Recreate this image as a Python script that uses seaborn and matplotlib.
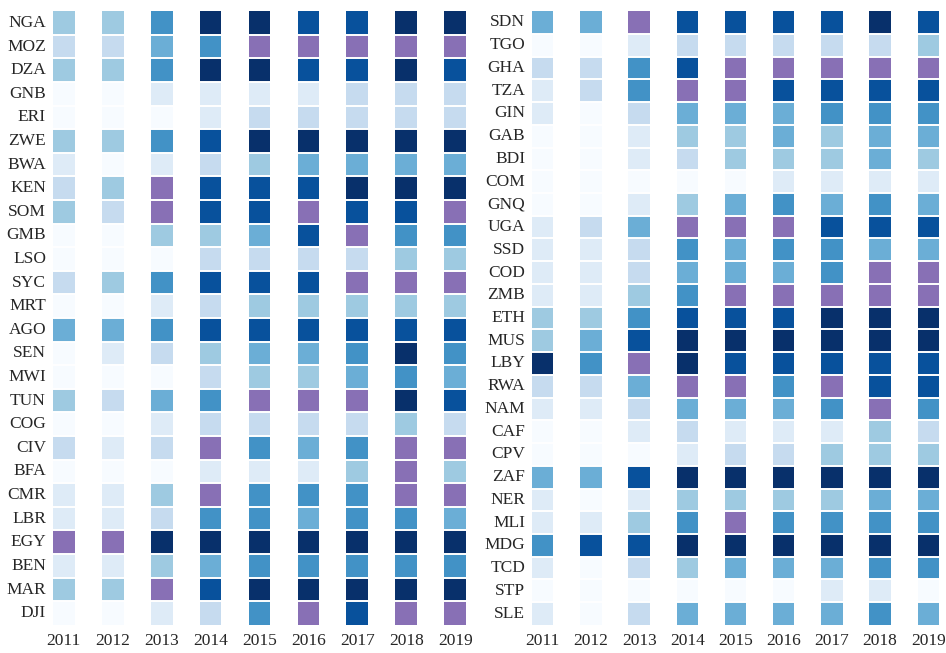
import matplotlib
matplotlib.use("Agg")
import matplotlib.pyplot as plt
from matplotlib.colors import ListedColormap
import seaborn as sns
import pandas as pd
import numpy as np

# Data: discrete level codes 0-7 (Blues), P = special category (purple)
P = 8
years = ["2011", "2012", "2013", "2014", "2015", "2016", "2017", "2018", "2019"]

left_countries = ["NGA", "MOZ", "DZA", "GNB", "ERI", "ZWE", "BWA", "KEN", "SOM", "GMB",
                  "LSO", "SYC", "MRT", "AGO", "SEN", "MWI", "TUN", "COG", "CIV", "BFA",
                  "CMR", "LBR", "EGY", "BEN", "MAR", "DJI"]
left_levels = [
    [3, 3, 5, 7, 7, 6, 6, 7, 7],
    [2, 2, 4, 5, P, P, P, P, P],
    [3, 3, 5, 7, 7, 6, 6, 7, 6],
    [0, 0, 1, 1, 1, 1, 2, 2, 2],
    [0, 0, 0, 1, 2, 2, 2, 2, 2],
    [3, 3, 5, 6, 7, 7, 7, 7, 7],
    [1, 0, 1, 2, 3, 4, 4, 4, 4],
    [2, 3, P, 6, 6, 6, 7, 7, 7],
    [3, 2, P, 6, 6, P, 6, 6, P],
    [0, 0, 3, 3, 4, 6, P, 5, 5],
    [0, 0, 0, 2, 2, 2, 2, 3, 3],
    [2, 3, 5, 6, 6, 6, P, P, P],
    [0, 0, 1, 2, 3, 3, 3, 3, 3],
    [4, 4, 5, 6, 6, 6, 6, 6, 6],
    [0, 1, 2, 3, 4, 4, 5, 7, 5],
    [0, 0, 0, 2, 3, 3, 4, 5, 4],
    [3, 2, 4, 5, P, P, P, 7, 6],
    [0, 0, 1, 2, 2, 2, 2, 3, 2],
    [2, 1, 2, P, 5, 4, 5, P, P],
    [0, 0, 0, 1, 1, 1, 3, P, 3],
    [1, 1, 3, P, 5, 5, 5, P, P],
    [1, 1, 2, 5, 5, 4, 5, 5, 4],
    [P, P, 7, 7, 7, 7, 7, 7, 7],
    [1, 1, 3, 4, 5, 5, 5, 5, 5],
    [3, 3, P, 6, 7, 7, 7, 7, 7],
    [0, 0, 1, 2, 5, P, 6, P, P],
]

right_countries = ["SDN", "TGO", "GHA", "TZA", "GIN", "GAB", "BDI", "COM", "GNQ", "UGA",
                   "SSD", "COD", "ZMB", "ETH", "MUS", "LBY", "RWA", "NAM", "CAF", "CPV",
                   "ZAF", "NER", "MLI", "MDG", "TCD", "STP", "SLE"]
right_levels = [
    [4, 4, P, 6, 6, 6, 6, 7, 6],
    [0, 0, 1, 2, 2, 2, 2, 2, 3],
    [2, 2, 5, 6, P, P, P, P, P],
    [1, 2, 5, P, P, 6, 6, 6, 6],
    [1, 0, 2, 4, 4, 4, 5, 5, 5],
    [0, 0, 1, 3, 3, 4, 3, 4, 4],
    [0, 0, 1, 2, 3, 3, 3, 4, 3],
    [0, 0, 0, 0, 0, 1, 1, 1, 1],
    [0, 0, 1, 3, 4, 5, 4, 5, 4],
    [1, 2, 4, P, P, P, 6, 6, 6],
    [1, 1, 2, 5, 4, 5, 5, 4, 4],
    [1, 1, 2, 4, 4, 4, 5, P, P],
    [1, 1, 3, 5, P, P, P, P, P],
    [3, 3, 5, 6, 6, 6, 7, 7, 7],
    [3, 4, 6, 7, 7, 7, 7, 7, 7],
    [7, 5, P, 7, 6, 6, 6, 6, 6],
    [2, 2, 4, P, P, 5, P, 6, 6],
    [1, 1, 2, 4, 4, 4, 5, P, 5],
    [0, 0, 1, 2, 1, 1, 1, 3, 2],
    [0, 0, 0, 1, 2, 2, 3, 3, 3],
    [4, 4, 6, 7, 7, 7, 7, 7, 7],
    [1, 0, 1, 3, 3, 3, 3, 4, 4],
    [1, 1, 3, 5, P, 5, 5, 5, 5],
    [5, 6, 6, 7, 7, 7, 7, 7, 7],
    [1, 0, 2, 3, 4, 4, 4, 5, 5],
    [0, 0, 0, 0, 0, 0, 1, 1, 0],
    [1, 0, 2, 4, 4, 4, 4, 5, 4],
]

palette = ["#f7fbff", "#deebf7", "#c6dbef", "#9ecae1", "#6baed6",
           "#4292c6", "#08519c", "#08306b", "#8870b5"]
cmap = ListedColormap(palette)

# Each year is split into 9 sub-columns, the first 4 filled, to leave white gaps
SUB = 9
FILL = 4


def spread_columns(levels):
    arr = np.array(levels, dtype=float)
    n_rows, n_cols = arr.shape
    wide = np.full((n_rows, SUB * (n_cols - 1) + FILL), np.nan)
    for j in range(n_cols):
        wide[:, SUB * j:SUB * j + FILL] = arr[:, [j]]
    return wide


def draw_panel(ax, countries, levels):
    wide = spread_columns(levels)
    df = pd.DataFrame(wide, index=countries)
    sns.heatmap(df, ax=ax, cmap=cmap, vmin=-0.5, vmax=8.5, cbar=False,
                xticklabels=False, yticklabels=True, linewidths=0)
    # thin white separators between rows
    for r in range(1, len(countries)):
        ax.axhline(r, color="white", lw=1.4)
    ax.set_xticks([SUB * j + FILL / 2 for j in range(len(years))])
    ax.set_xticklabels(years, rotation=0)
    ax.set_yticklabels(countries, rotation=0)
    ax.tick_params(length=0, labelsize=12.5, pad=5)
    ax.tick_params(axis="x", pad=6)
    ax.set_xlabel("")
    ax.set_ylabel("")


sns.set_theme(style="white")
plt.rcParams["font.family"] = ["Liberation Serif", "DejaVu Serif"]

fig = plt.figure(figsize=(9.46, 6.53), dpi=100)
ax_left = fig.add_axes([0.056, 0.043, 0.4366, 0.940])
ax_right = fig.add_axes([0.5624, 0.043, 0.4302, 0.940])

draw_panel(ax_left, left_countries, left_levels)
draw_panel(ax_right, right_countries, right_levels)

fig.savefig("out.png", dpi=100)
